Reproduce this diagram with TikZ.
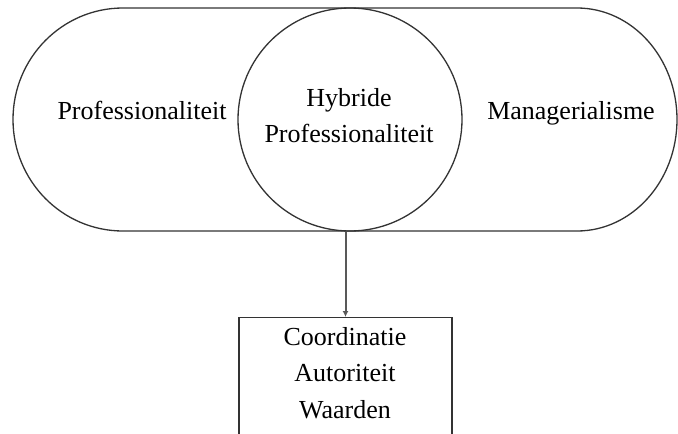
\documentclass[tikz,border=0pt]{standalone}
\usepackage{fontspec}
\setmainfont{Liberation Serif}
\usetikzlibrary{arrows.meta,shapes.geometric}
\begin{document}
\begin{tikzpicture}[x=1pt,y=-1pt,
  outline/.style={draw=black!80, line width=1.3pt},
  lbl/.style={font=\fontsize{26}{36}\selectfont, align=center, inner sep=0pt, anchor=base},
  boxlbl/.style={font=\fontsize{26}{36.5}\selectfont, align=center, inner sep=0pt, anchor=base},
  conn/.style={draw=black!65, line width=2pt, -{Latex[length=6pt,width=6pt]}}]
\useasboundingbox (0,0) rectangle (678,434);
\clip (0,0) rectangle (678,434);
\fill[white] (0,0) rectangle (678,434);
% stadium
\draw[outline] (123,8) -- (577,8)
  arc[start angle=90, end angle=-90, x radius=100pt, y radius=111.5pt]
  -- (123,231)
  arc[start angle=-90, end angle=-270, x radius=110pt, y radius=111.5pt]
  -- cycle;
% circle
\node[outline, ellipse, minimum width=224pt, minimum height=223pt, inner sep=0pt] (circ) at (350,119.5) {};
% box
\node[outline, rectangle, anchor=north, minimum width=213pt, minimum height=140pt, inner sep=0pt] (box) at (345.5,317) {};
% labels
\node[lbl] (prof) at (142,119) {Professionaliteit};
\node[lbl] (mgr) at (571,119) {Managerialisme};
\node[lbl] (hyb) at (349,142) {Hybride\\Professionaliteit};
\node[boxlbl] (vals) at (345,418) {Coordinatie\\Autoriteit\\Waarden};
% connector
\draw[conn] (box.north |- circ.south) -- (box.north);
\end{tikzpicture}
\end{document}
